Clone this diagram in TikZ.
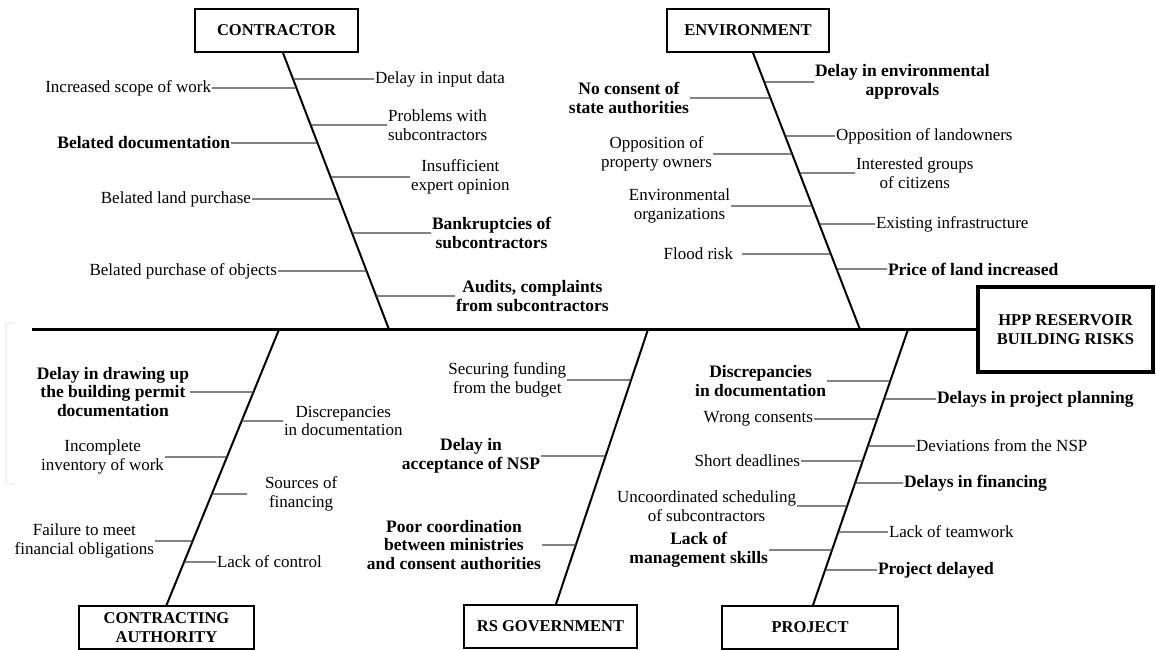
\documentclass[tikz,border=0pt]{standalone}
\usepackage{fontspec}
\setmainfont{Liberation Serif}
\tikzset{
  lbl/.style={font=\fontsize{17}{18.5}\selectfont, inner sep=1pt, outer sep=0pt, align=center},
  blbl/.style={lbl, font=\fontsize{17.5}{18.5}\selectfont\bfseries},
  catbox/.style={draw, line width=1.8pt, font=\fontsize{16.5}{19}\selectfont\bfseries, align=center, inner sep=0pt, minimum height=43pt},
  rib/.style={line width=1.2pt, draw=black!75},
  bone/.style={line width=2pt},
  spine/.style={line width=3.6pt},
}
\newcommand\myrib[4][xshift=0pt]{\draw[rib] ([#1]#2.#3) -- (intersection of #4 and #2.east--#2.west);}
\begin{document}
\begin{tikzpicture}[x=1pt,y=-1pt]
\useasboundingbox (0,0) rectangle (1156,650);
% faint bracket at the left edge
\draw[gray!10, line width=2.5pt] (15,323) -- (6,323) -- (6,484) -- (15,484);

% category boxes
\node[catbox, minimum width=163pt] (cbox) at (276.5,30.5) {CONTRACTOR};
\node[catbox, minimum width=162pt] (ebox) at (748,30.5) {ENVIRONMENT};
\node[catbox, minimum width=175pt] (abox) at (166.5,627.5) {CONTRACTING\\AUTHORITY};
\node[catbox, minimum width=173pt] (rbox) at (550.5,626.5) {RS GOVERNMENT};
\node[catbox, minimum width=176pt] (pbox) at (810,627.5) {PROJECT};
\node[catbox, line width=3.5pt, minimum width=175pt, minimum height=85pt] (head) at (1065.5,329.5) {HPP RESERVOIR\\BUILDING RISKS};

% spine
\coordinate (tail) at (32,329.5);
\draw[spine] (tail) -- (head.west);

% bones
\coordinate (ct) at ([xshift=6.5pt]cbox.south);
\coordinate (cb) at (389,329.5);
\coordinate (et) at ([xshift=5pt]ebox.south);
\coordinate (eb) at (860,329.5);
\coordinate (ab) at (abox.north);
\coordinate (at) at (279,329.5);
\coordinate (rb) at ([xshift=5.5pt]rbox.north);
\coordinate (rt) at (648,329.5);
\coordinate (pb) at ([xshift=3pt]pbox.north);
\coordinate (pt) at (908,329.5);
\draw[bone] (ct) -- (cb);
\draw[bone] (et) -- (eb);
\draw[bone] (ab) -- (at);
\draw[bone] (rb) -- (rt);
\draw[bone] (pb) -- (pt);

% CONTRACTOR
\node[lbl, anchor=east] (c1) at (212,88) {Increased scope of work};
\node[blbl, anchor=east] (c2) at (231,143) {Belated documentation};
\node[lbl, anchor=east] (c3) at (252,199) {Belated land purchase};
\node[lbl, anchor=east] (c4) at (278,271) {Belated purchase of objects};
\node[lbl, anchor=west] (c5) at (374,79) {Delay in input data};
\node[lbl, anchor=west] (c6) at (387,125) {Problems with\\subcontractors};
\node[lbl, anchor=west] (c7) at (410,177) {Insufficient\\expert opinion};
\node[blbl, anchor=west] (c8) at (431,233) {Bankruptcies of\\subcontractors};
\node[blbl, anchor=west] (c9) at (455,296) {Audits, complaints\\from subcontractors};
\myrib{c1}{east}{ct--cb}
\myrib{c2}{east}{ct--cb}
\myrib{c3}{east}{ct--cb}
\myrib{c4}{east}{ct--cb}
\myrib{c5}{west}{ct--cb}
\myrib{c6}{west}{ct--cb}
\myrib{c7}{west}{ct--cb}
\myrib{c8}{west}{ct--cb}
\myrib{c9}{west}{ct--cb}

% ENVIRONMENT
\node[blbl, anchor=east] (e1) at (690,98) {No consent of\\state authorities};
\node[lbl, anchor=east] (e2) at (713,154) {Opposition of\\property owners};
\node[lbl, anchor=east] (e3) at (731,206) {Environmental\\organizations};
\node[lbl, anchor=east] (e4) at (734,254) {Flood risk};
\node[blbl, anchor=west] (e5) at (814,82) {Delay in environmental\\approvals};
\node[lbl, anchor=west] (e6) at (835,136) {Opposition of landowners};
\node[lbl, anchor=west] (e7) at (855,173) {Interested groups\\of citizens};
\node[lbl, anchor=west] (e8) at (875,224) {Existing infrastructure};
\node[blbl, anchor=west] (e9) at (887,269) {Price of land increased};
\myrib{e1}{east}{et--eb}
\myrib{e2}{east}{et--eb}
\myrib{e3}{east}{et--eb}
\myrib[xshift=8pt]{e4}{east}{et--eb}
\myrib{e5}{west}{et--eb}
\myrib{e6}{west}{et--eb}
\myrib{e7}{west}{et--eb}
\myrib{e8}{west}{et--eb}
\myrib{e9}{west}{et--eb}

% CONTRACTING AUTHORITY
\node[blbl, anchor=east] (a1) at (190,392) {Delay in drawing up\\the building permit\\documentation};
\node[lbl, anchor=east] (a2) at (165,457) {Incomplete\\inventory of work};
\node[lbl, anchor=east] (a3) at (155,541) {Failure to meet\\financial obligations};
\node[lbl, anchor=west] (a4) at (283,421) {Discrepancies\\in documentation};
\node[lbl, anchor=west] (a5) at (264,494) {Sources of\\financing};
\node[lbl, anchor=west] (a6) at (216,562) {Lack of control};
\myrib{a1}{east}{ab--at}
\myrib{a2}{east}{ab--at}
\myrib{a3}{east}{ab--at}
\myrib{a4}{west}{ab--at}
\myrib[xshift=-17pt]{a5}{west}{ab--at}
\myrib{a6}{west}{ab--at}

% RS GOVERNMENT
\node[lbl, anchor=east] (r1) at (567,380) {Securing funding\\from the budget};
\node[blbl, anchor=east] (r2) at (541,456) {Delay in\\acceptance of NSP};
\node[blbl, anchor=east] (r3) at (542,545) {Poor coordination\\between ministries\\and consent authorities};
\myrib{r1}{east}{rb--rt}
\myrib{r2}{east}{rb--rt}
\myrib{r3}{east}{rb--rt}

% PROJECT
\node[blbl, anchor=east] (p1) at (827,381) {Discrepancies\\in documentation};
\node[lbl, anchor=east] (p2) at (814,419) {Wrong consents};
\node[lbl, anchor=east] (p3) at (801,461) {Short deadlines};
\node[lbl, anchor=east] (p4) at (797,506) {Uncoordinated scheduling\\of subcontractors};
\node[blbl, anchor=east] (p5) at (769,550) {Lack of\\management skills};
\node[blbl, anchor=west] (p6) at (936,399) {Delays in project planning};
\node[lbl, anchor=west] (p7) at (915,446) {Deviations from the NSP};
\node[blbl, anchor=west] (p8) at (903,483) {Delays in financing};
\node[lbl, anchor=west] (p9) at (888,532) {Lack of teamwork};
\node[blbl, anchor=west] (p10) at (877,570) {Project delayed};
\myrib{p1}{east}{pb--pt}
\myrib{p2}{east}{pb--pt}
\myrib{p3}{east}{pb--pt}
\myrib{p4}{east}{pb--pt}
\myrib{p5}{east}{pb--pt}
\myrib{p6}{west}{pb--pt}
\myrib{p7}{west}{pb--pt}
\myrib{p8}{west}{pb--pt}
\myrib{p9}{west}{pb--pt}
\myrib{p10}{west}{pb--pt}
\end{tikzpicture}
\end{document}
